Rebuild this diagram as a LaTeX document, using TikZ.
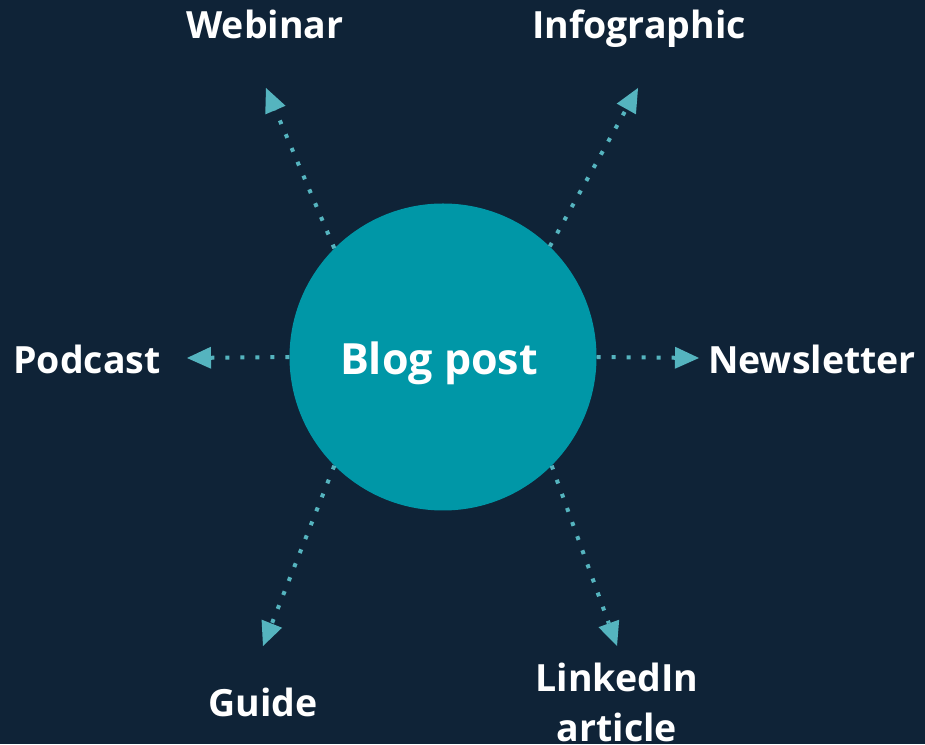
\documentclass[tikz,border=0pt]{standalone}
\usepackage{fontspec}
\setmainfont{Open Sans}
\usetikzlibrary{arrows.meta}
\definecolor{navy}{HTML}{0F2337}
\definecolor{teal}{HTML}{0097A7}
\definecolor{dotcol}{HTML}{55B4BF}
\tikzset{
  hub/.style={circle, fill=teal, minimum size=307pt, inner sep=0pt},
  hubtext/.style={text=white, inner sep=0pt, anchor=base,
    font=\bfseries\fontsize{43}{50}\selectfont},
  lbl/.style={text=white, inner sep=0pt, align=center, anchor=base,
    font=\bfseries\fontsize{37.5}{50}\selectfont},
  link/.style={draw=dotcol, line width=4pt, dash pattern=on 4pt off 11pt,
    -{Triangle[length=24pt, width=22pt, fill=dotcol, line width=0pt]}}
}
\begin{document}
\begin{tikzpicture}[x=1pt, y=1pt]
  \fill[navy] (0,0) rectangle (925,744);
  \useasboundingbox (0,0) rectangle (925,744);

  \node[hub] (c) at (443,387) {};
  \node[hubtext] (title) at (439,369) {Blog post};

  % arrow tips
  \coordinate (tw) at (266,656);
  \coordinate (ti) at (638,656);
  \coordinate (tp) at (187,386);
  \coordinate (tn) at (699,386);
  \coordinate (tg) at (263,98);
  \coordinate (tl) at (617,98);

  % labels, placed on their baselines
  \node[lbl] (webinar) at (265,705) {Webinar};
  \node[lbl] (infographic) at (639,705) {Infographic};
  \node[lbl] (podcast) at (87,370) {Podcast};
  \node[lbl] (newsletter) at (812,370) {Newsletter};
  \node[lbl] (guide) at (263,28) {Guide};
  \node[lbl] (linkedin) at (617,53) {LinkedIn};
  \node[lbl] (article) at (617,3) {article};

  % connectors
  \draw[link] (c.135) -- (tw);
  \draw[link] (c.46) -- (ti);
  \draw[link] (c.180) -- (tp);
  \draw[link] (c.0) -- (tn);
  \draw[link] (c.225) -- (tg);
  \draw[link] (c.315) -- (tl);
\end{tikzpicture}
\end{document}
